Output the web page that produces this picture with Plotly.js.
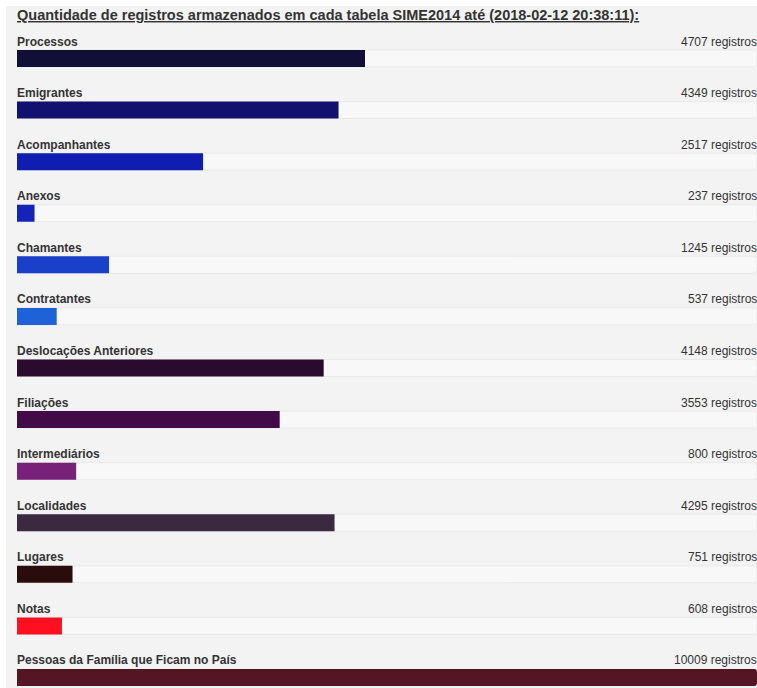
<!DOCTYPE html>
<html>
<head>
<meta charset="utf-8">
<script src="https://cdn.plot.ly/plotly-3.0.1.min.js"></script>
<style>html,body{margin:0;padding:0;background:#fff;}#chart{width:757px;height:688px;}</style>
</head>
<body>
<div id="chart"></div>
<script>
var tables = ["Processos","Emigrantes","Acompanhantes","Anexos","Chamantes","Contratantes","Deslocações Anteriores","Filiações","Intermediários","Localidades","Lugares","Notas","Pessoas da Família que Ficam no País"];
var counts = [4707,4349,2517,237,1245,537,4148,3553,800,4295,751,608,10009];
var barColors = ["#110f36","#12116f","#0f1db0","#1424b8","#1a3fc8","#1f62d8","#2a0b2e","#420a46","#772179","#3a2941","#2a0c0c","#ff1020","#541624"];
var unitLabel = "registros";
var titleText = "Quantidade de registros armazenados em cada tabela SIME2014 até (2018-02-12 20:38:11):";

var maxCount = Math.max.apply(null, counts);

var track = {
  type: "bar", orientation: "h",
  y: tables, x: tables.map(function(){ return maxCount; }),
  width: 0.33,
  marker: {color: "#f8f8f8", line: {color: "#e9e9e9", width: 1}, cornerradius: 3},
  hoverinfo: "skip", showlegend: false
};
var bars = {
  type: "bar", orientation: "h",
  y: tables, x: counts,
  width: 0.33,
  marker: {color: barColors, cornerradius: 3},
  showlegend: false
};

var annotations = [];
tables.forEach(function(t, i){
  annotations.push({
    xref: "paper", x: 0, yref: "y", y: t, xanchor: "left", yanchor: "middle",
    yshift: 17, showarrow: false, borderpad: 0, borderwidth: 0, text: "<b>" + t + "</b>",
    font: {family: "Liberation Sans, Arial, sans-serif", size: 12, color: "#333"}
  });
  annotations.push({
    xref: "paper", x: 1, yref: "y", y: t, xanchor: "right", yanchor: "middle",
    yshift: 17, showarrow: false, borderpad: 0, borderwidth: 0, text: counts[i] + " " + unitLabel,
    font: {family: "Liberation Sans, Arial, sans-serif", size: 12, color: "#333"}
  });
});
annotations.push({
  xref: "paper", x: 0, yref: "paper", y: 1.0, yshift: 15, xanchor: "left", yanchor: "middle",
  showarrow: false, borderpad: 0, borderwidth: 0, text: "<u><b>" + titleText + "</b></u>",
  font: {family: "Liberation Sans, Arial, sans-serif", size: 14.5, color: "#333"}
});

var layout = {
  width: 757, height: 688,
  margin: {l: 17, r: 0, t: 30, b: 0, pad: 0},
  paper_bgcolor: "#ffffff", plot_bgcolor: "rgba(0,0,0,0)",
  barmode: "overlay",
  xaxis: {range: [0, maxCount], visible: false, fixedrange: true},
  yaxis: {type: "category", range: [12.204, -0.5525], visible: false, fixedrange: true},
  shapes: [{type: "rect", xref: "paper", yref: "paper", x0: -0.01486, x1: 1.01, y0: -0.01, y1: 1.0365,
            fillcolor: "#f3f3f3", line: {width: 0}, layer: "below"}],
  annotations: annotations
};

Plotly.newPlot("chart", [track, bars], layout, {displayModeBar: false, staticPlot: true});
</script>
</body>
</html>
